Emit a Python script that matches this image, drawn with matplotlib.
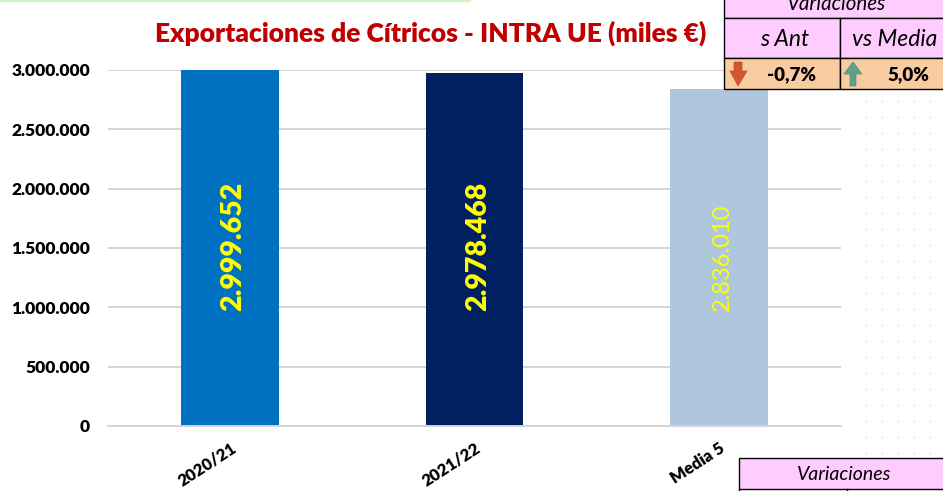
import matplotlib
matplotlib.use('Agg')
import matplotlib.pyplot as plt
from matplotlib.patches import Polygon, Rectangle
from matplotlib.ticker import FuncFormatter

plt.rcParams['font.family'] = ['Lato', 'DejaVu Sans']

categories = ['2020/21', '2021/22', 'Media 5']
values = [2999652, 2978468, 2836010]
value_labels = ['2.999.652', '2.978.468', '2.836.010']
colors = ['#0070C0', '#002060', '#AEC7DC']
var_headers = ['s Ant', 'vs Media']
var_values = ['-0,7%', '5,0%']

W, H = 943, 491
fig = plt.figure(figsize=(W / 100, H / 100), dpi=100)
ax = fig.add_axes([108 / W, 1 - 426 / H, 733 / W, 356 / H])

ax.bar(range(3), values, width=0.4, color=colors, zorder=2)
ax.set_xlim(-0.5, 2.5)
ax.set_ylim(0, 3000000)
ax.set_yticks(range(0, 3000001, 500000))
ax.yaxis.set_major_formatter(FuncFormatter(lambda v, p: f'{int(v):,}'.replace(',', '.')))
ax.grid(axis='y', color='#D4D4D4', linewidth=1.4, zorder=0)
ax.set_axisbelow(True)
for s in ['top', 'right', 'left']:
    ax.spines[s].set_visible(False)
ax.spines['bottom'].set_color('#D4D4D4')
ax.spines['bottom'].set_linewidth(1.4)
ax.tick_params(length=0)
ax.tick_params(axis='y', pad=13, labelsize=12.5)
for t in ax.get_yticklabels():
    t.set_fontweight('heavy')
ax.set_xticks(range(3))
ax.set_xticklabels(categories, rotation=33, ha='right', rotation_mode='anchor',
                   fontsize=12, fontweight='heavy')
ax.tick_params(axis='x', pad=10)

# etiquetas de valor dentro de las barras
for i, lab in enumerate(value_labels):
    is_media = i == 2
    ax.text(i + 0.014, 970000, lab, rotation=90, ha='center', va='bottom', color='#FFFF00',
            fontsize=17 if is_media else 20.5, fontweight='normal' if is_media else 'heavy',
            zorder=3)

# capa en pixeles para titulo y tablas
ov = fig.add_axes([0, 0, 1, 1], zorder=5)
ov.set_xlim(0, W)
ov.set_ylim(H, 0)
ov.axis('off')
ov.patch.set_alpha(0)

ov.text(431, 33, 'Exportaciones de Cítricos - INTRA UE (miles €)', ha='center', va='center',
        color='#C00000', fontsize=19, fontweight='heavy')
ov.plot([0, 470], [0.5, 0.5], color='#D5F5C0', lw=1.5)

# puntos de fondo a la derecha
dx = [x for x in range(866, 943, 16) for y in range(101, 455, 16)]
dy = [y for x in range(866, 943, 16) for y in range(101, 455, 16)]
ov.scatter(dx, dy, s=2.5, color='#E8E8DC', linewidths=0)

PINK = '#FFCCFF'
ORANGE = '#F8CBA0'


def cell(x0, y0, x1, y1, color):
    ov.add_patch(Rectangle((x0, y0), x1 - x0, y1 - y0, facecolor=color,
                           edgecolor='black', linewidth=1.0, zorder=2))


# tabla superior
cell(723.5, -5, 950, 17.5, PINK)
cell(723.5, 17.5, 839.5, 57.5, PINK)
cell(839.5, 17.5, 950, 57.5, PINK)
cell(723.5, 57.5, 839.5, 89, ORANGE)
cell(839.5, 57.5, 950, 89, ORANGE)
ov.text(837, 4, 'Variaciones', ha='center', va='center', style='italic', fontsize=14.8, zorder=3)
ov.text(785, 39, var_headers[0], ha='center', va='center', style='italic', fontsize=16.5, zorder=3)
ov.text(895, 39, var_headers[1], ha='center', va='center', style='italic', fontsize=16.5, zorder=3)
ov.text(792, 75, var_values[0], ha='center', va='center', fontweight='heavy', fontsize=13.5, zorder=3)
ov.text(908, 75, var_values[1], ha='center', va='center', fontweight='heavy', fontsize=13.5, zorder=3)

# flechas
ov.add_patch(Polygon([(734, 62), (742, 62), (742, 71), (747, 71), (738, 86), (730, 71), (734, 71)],
                     facecolor='#D2562F', edgecolor='#C0502C', lw=0.5, zorder=3))
ov.add_patch(Polygon([(850, 86), (856, 86), (856, 74), (862, 74), (853, 62), (844, 74), (850, 74)],
                     facecolor='#5FA08C', edgecolor='#4F8F80', lw=0.5, zorder=3))

# tabla inferior
cell(738.5, 458, 950, 489, PINK)
ov.plot([738.5, 738.5], [489, 491], color='black', lw=1)
ov.plot([846.5, 846.5], [489, 491], color='black', lw=1)
ov.text(844, 475, 'Variaciones', ha='center', va='center', style='italic', fontsize=14, zorder=3)

plt.savefig('out.png', dpi=100)
